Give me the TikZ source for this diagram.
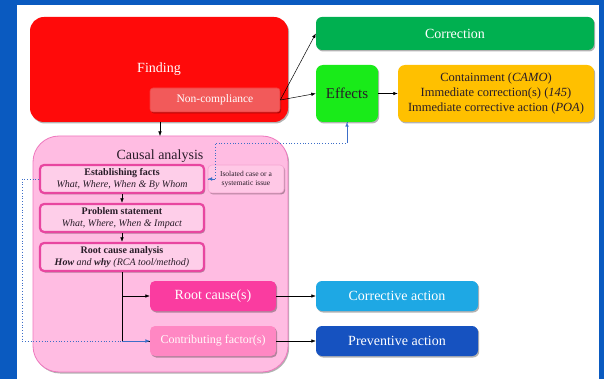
\documentclass[tikz,border=0pt]{standalone}
\usepackage{fontspec}
\setmainfont{Liberation Serif}
\usetikzlibrary{arrows.meta,shadows}
\definecolor{bgblue}{RGB}{10,90,192}
\definecolor{findred}{RGB}{255,10,10}
\definecolor{ncred}{RGB}{242,90,90}
\definecolor{corrgreen}{RGB}{0,176,80}
\definecolor{effgreen}{RGB}{25,235,25}
\definecolor{ambery}{RGB}{255,192,0}
\definecolor{cpink}{RGB}{255,188,226}
\definecolor{cpinkb}{RGB}{238,120,190}
\definecolor{spink}{RGB}{254,206,233}
\definecolor{spinkb}{RGB}{232,70,160}
\definecolor{ipink}{RGB}{255,200,230}
\definecolor{ipinkb}{RGB}{245,165,210}
\definecolor{hotpink}{RGB}{250,60,160}
\definecolor{softpink}{RGB}{255,135,195}
\definecolor{lblue}{RGB}{30,168,228}
\definecolor{dblue}{RGB}{22,82,192}
\definecolor{darktext}{RGB}{40,28,40}
\definecolor{dotblue}{RGB}{60,110,200}
\tikzset{
  box/.style={draw=none, inner sep=0pt, align=center, rounded corners=5pt,
    drop shadow={shadow xshift=1.2pt, shadow yshift=-1.5pt, opacity=0.3, fill=black}},
  stepbox/.style={box, fill=spink, draw=spinkb, line width=2.2pt, minimum width=164pt, minimum height=28pt,
    font=\fontsize{10}{11.5}\selectfont, text=darktext, rounded corners=4pt},
  arr/.style={-{Latex[length=4.5pt,width=3.5pt]}, black, line width=0.5pt},
  dotarr/.style={dotted, dotblue, line width=0.8pt},
  big/.style={font=\fontsize{14}{16}\selectfont},
}
\begin{document}
\begin{tikzpicture}[x=1pt,y=-1pt]
\useasboundingbox (0,0) rectangle (604,379);
\fill[bgblue] (0,0) rectangle (604,379);
\fill[white] (17,5) rectangle (599,379);

% causal analysis container
\node[box, fill=cpink, draw=cpinkb, line width=0.8pt, rounded corners=26pt, minimum width=255pt, minimum height=236pt, drop shadow={opacity=0}] (causal) at (160.5,254) {};
\node[big, text=darktext] (causallbl) at (160,156) {Causal analysis};

% top row
\node[box, fill=findred, rounded corners=14pt, minimum width=258pt, minimum height=105pt, big, text=white] (finding) at (159,69.5) {Finding};
\node[box, fill=ncred, draw=findred!40!ncred, line width=0.6pt, rounded corners=3pt, minimum width=130pt, minimum height=24pt, font=\fontsize{11.5}{13}\selectfont, text=white] (noncomp) at (215,100) {Non-compliance};
\node[box, fill=corrgreen, rounded corners=6pt, minimum width=278pt, minimum height=33pt, big, text=white] (correction) at (455,33.5) {Correction};
\node[box, fill=effgreen, rounded corners=7pt, minimum width=62pt, minimum height=57pt, font=\fontsize{15}{17}\selectfont, text=darktext] (effects) at (347,93.5) {Effects};
\node[box, fill=ambery, rounded corners=7pt, minimum width=196pt, minimum height=57pt, font=\fontsize{12.5}{15}\selectfont, text=darktext] (contain) at (496,93.5) {Containment (\textit{CAMO})\\Immediate correction(s) (\textit{145})\\Immediate corrective action (\textit{POA})};

% steps
\node[stepbox] (estab) at (122,179) {\textbf{Establishing facts}\\\textit{What, Where, When \& By Whom}};
\node[stepbox] (problem) at (122,218) {\textbf{Problem statement}\\\textit{What, Where, When \& Impact}};
\node[stepbox] (rca) at (122,257) {\textbf{Root cause analysis}\\\textbf{\textit{How}} \textit{and} \textbf{\textit{why}} \textit{(RCA tool/method)}};
\node[box, fill=ipink, draw=ipinkb, line width=0.6pt, rounded corners=4pt, minimum width=76pt, minimum height=28pt, font=\fontsize{7.5}{9}\selectfont, text=darktext, drop shadow={opacity=0}] (isolated) at (246,179) {Isolated case or a\\systematic issue};

% bottom rows
\node[box, fill=hotpink, rounded corners=5pt, minimum width=126pt, minimum height=30pt, big, text=white] (rootc) at (213,296) {Root cause(s)};
\node[box, fill=softpink, rounded corners=5pt, minimum width=126pt, minimum height=30pt, font=\fontsize{12}{14}\selectfont, text=white!92!pink] (contrib) at (213,341) {Contributing factor(s)};
\node[box, fill=lblue, rounded corners=6pt, minimum width=162pt, minimum height=30pt, big, text=white] (corrective) at (397,296) {Corrective action};
\node[box, fill=dblue, rounded corners=6pt, minimum width=162pt, minimum height=30pt, big, text=white] (preventive) at (397,341) {Preventive action};

% coordinates
\coordinate (fbot) at (160,122);
\coordinate (ctop) at (160,136);
\coordinate (ra) at (122,296);
\coordinate (rb) at (122,341);
\coordinate (d1) at (347,143);
\coordinate (d2) at (215,143);
\coordinate (d3) at (215,179);
\coordinate (l1) at (22,179);
\coordinate (l2) at (22,341);

% connectors
\draw[arr] (fbot) -- (ctop);
\draw[arr] (noncomp.east) -- (correction.west);
\draw[arr] (noncomp.east) -- (effects.west);
\draw[arr] (effects.east) -- (contain.west);
\draw[arr] (estab.south) -- (problem.north);
\draw[arr] (problem.south) -- (rca.north);
\draw[black, line width=0.5pt] (rca.south) -- (rb) -- (contrib.west);
\draw[arr] (ra) -- (rootc.west);
\draw[arr] (rootc.east) -- (corrective.west);
\draw[arr] (contrib.east) -- (preventive.west);

\draw[dotarr] (effects.south) -- (d1) -- (d2) -- (d3) -- (isolated.west);
\draw[dotblue, -{Latex[length=4.5pt,width=3.5pt]}] (d1) -- (effects.south);
\draw[dotblue, -{Latex[length=4.5pt,width=3.5pt]}] (d3) -- (isolated.west);
\draw[dotarr] (estab.west) -- (l1) -- (l2) -- (rb);
\draw[dotblue, -{Latex[length=4.5pt,width=3.5pt]}] (rb) -- (contrib.west);
\end{tikzpicture}
\end{document}
